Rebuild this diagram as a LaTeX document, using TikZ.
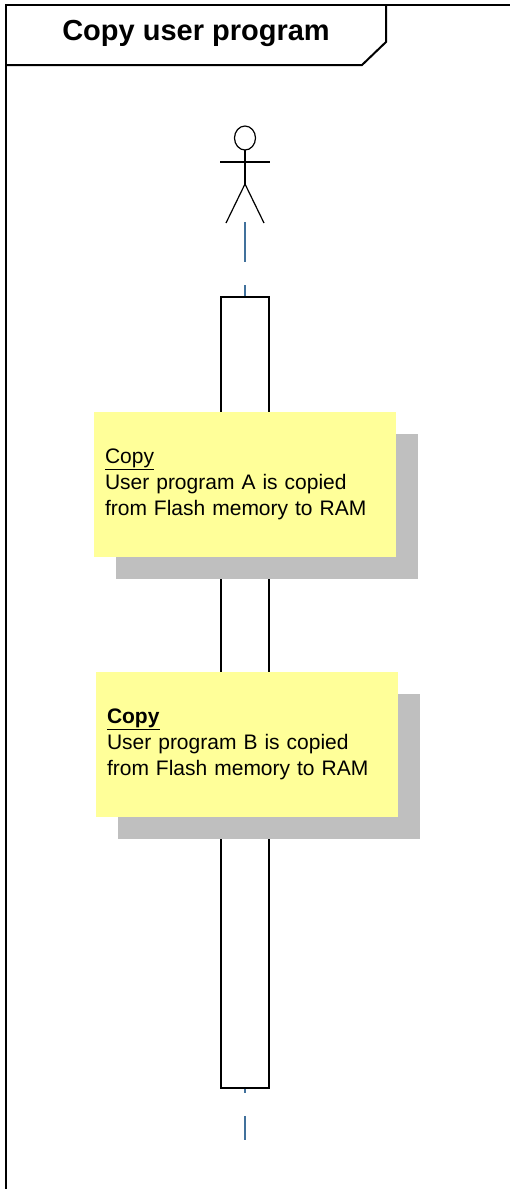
\documentclass[tikz,border=0pt]{standalone}
\usepackage{fontspec}
\setmainfont{Liberation Sans}
\usetikzlibrary{shadows}
\definecolor{notefill}{RGB}{255,255,153}
\definecolor{noteshade}{RGB}{191,191,191}
\definecolor{lifeblue}{RGB}{65,113,156}
\tikzset{>=latex}
\tikzset{
  frameline/.style={line width=2pt, line join=miter},
  lifeline/.style={draw=lifeblue, line width=1.6pt, dash pattern=on 40pt off 23pt},
  activation/.style={draw, line width=1.5pt, fill=white, minimum width=48pt, minimum height=791pt, inner sep=0pt},
  note/.style={rectangle, fill=notefill, minimum width=302pt, minimum height=145pt,
    text width=280pt, align=left, inner sep=11pt, font=\fontsize{21}{26}\selectfont,
    drop shadow={shadow xshift=22pt, shadow yshift=-22pt, fill=noteshade, opacity=1}},
  stick/.style={line width=1.2pt}
}

\begin{document}
\begin{tikzpicture}[x=1pt,y=-1pt]
            \useasboundingbox (0,0) rectangle (509,1189);
            % frame and header
            \draw[frameline] (6,1190) -- (6,5) -- (386,5);
            \draw[line width=1.2pt] (386,5) -- (510,5);
            \draw[frameline] (6,65) -- (362,65) -- (386,42) -- (386,5);
            \node (title) at (196,33) {\fontsize{29}{34}\selectfont\bfseries Copy user program};
            % actor
            \coordinate (actor) at (245,222);
            \draw[stick] (245,138) ellipse (10.5 and 12);
            \draw[stick] (245,150) -- (245,184);
            \draw[stick] (220,162) -- (270,162);
            \draw[stick] (226,223) -- (245,184) -- (264,223);
            % activation
            \node[activation] (act) at (245,692.5) {};
            \coordinate (end) at (245,1140);
            \draw[lifeline] (actor) -- (act.north);
            \draw[lifeline, dash phase=36pt] (act.south) -- (end);
            % notes
            \node[note] (copyA) at (245,484) {\underline{Copy}\\User program A is copied\\from Flash memory to RAM};
            \node[note, yshift=-1.5pt] (copyB) at (247,743) {\underline{\bfseries Copy}\\User program B is copied\\from Flash memory to RAM};
        \end{tikzpicture}
\end{document}
